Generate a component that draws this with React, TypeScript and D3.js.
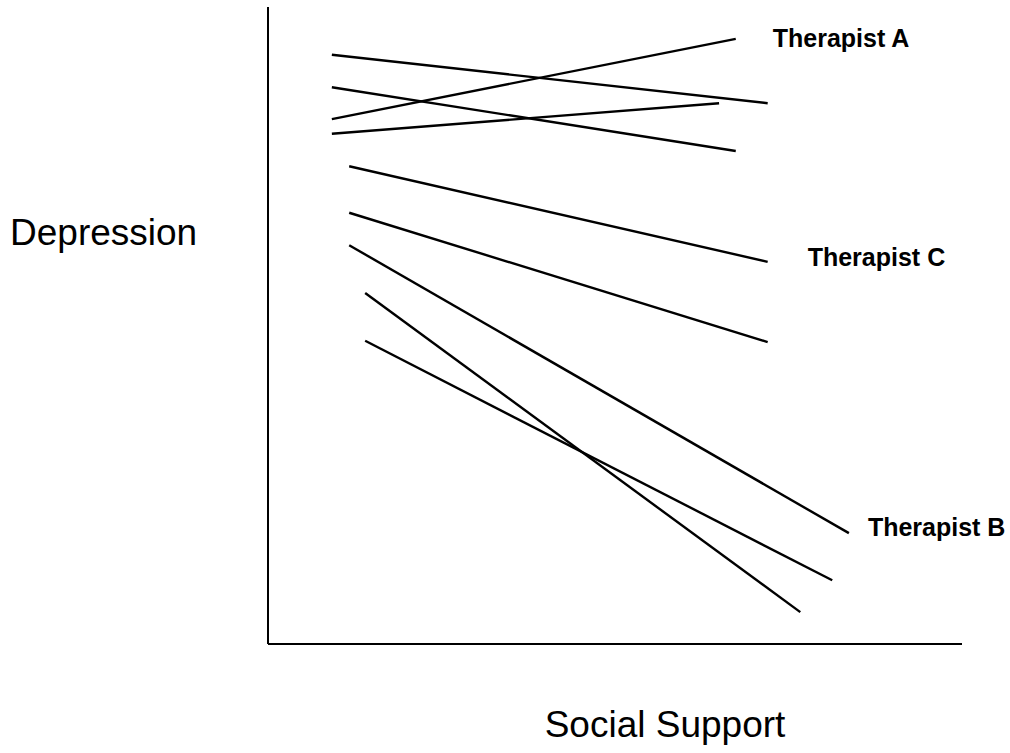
import React, { useEffect, useRef } from "react";
import * as d3 from "d3";

// each line: x1, y1, x2, y2 in data units (0-100 on both axes)
const startX = [9.2, 9.2, 9.2, 9.2, 11.7, 11.7, 11.7, 14.0, 14.0];
const startY = [92.5, 87.4, 82.4, 80.1, 75.0, 67.7, 62.6, 55.1, 47.6];
const endX = [72.0, 67.4, 67.4, 65.0, 72.0, 72.0, 83.7, 76.7, 81.3];
const endY = [84.9, 77.4, 95.0, 84.9, 60.0, 47.4, 17.4, 5.0, 10.0];

// labels sit next to the end of some lines
const labelNames = ["Therapist A", "Therapist C", "Therapist B"];
const labelLine = [2, 4, 6];
const labelDx = [37, 40, 19];
const labelDy = [8, 4, 3];

const width = 1010;
const height = 753;

export default function App() {
  const svgRef = useRef<SVGSVGElement | null>(null);

  useEffect(() => {
    const svg = d3.select(svgRef.current);
    svg.selectAll("*").remove();

    const x = d3.scaleLinear().domain([0, 100]).range([268, 962]);
    const y = d3.scaleLinear().domain([0, 100]).range([644, 7]);

    const lines = startX.map((sx, i) => ({
      x1: sx,
      y1: startY[i],
      x2: endX[i],
      y2: endY[i]
    }));

    // axes
    svg.append("line")
      .attr("x1", x(0)).attr("y1", y(0))
      .attr("x2", x(0)).attr("y2", y(100))
      .attr("stroke", "#000").attr("stroke-width", 2);
    svg.append("line")
      .attr("x1", x(0)).attr("y1", y(0))
      .attr("x2", x(100)).attr("y2", y(0))
      .attr("stroke", "#000").attr("stroke-width", 2);

    svg.selectAll("line.series")
      .data(lines)
      .enter()
      .append("line")
      .attr("class", "series")
      .attr("x1", (d) => x(d.x1))
      .attr("y1", (d) => y(d.y1))
      .attr("x2", (d) => x(d.x2))
      .attr("y2", (d) => y(d.y2))
      .attr("stroke", "#000")
      .attr("stroke-width", 2.4);

    svg.selectAll("text.label")
      .data(labelNames)
      .enter()
      .append("text")
      .attr("class", "label")
      .attr("x", (d, i) => x(lines[labelLine[i]].x2) + labelDx[i])
      .attr("y", (d, i) => y(lines[labelLine[i]].y2) + labelDy[i])
      .style("font-family", "Liberation Sans, Arial, sans-serif")
      .style("font-size", "25px")
      .style("font-weight", "bold")
      .text((d) => d);

    svg.append("text")
      .attr("x", 10)
      .attr("y", 245)
      .style("font-family", "Liberation Sans, Arial, sans-serif")
      .style("font-size", "37px")
      .text("Depression");

    svg.append("text")
      .attr("x", 665)
      .attr("y", 737)
      .attr("text-anchor", "middle")
      .style("font-family", "Liberation Sans, Arial, sans-serif")
      .style("font-size", "37px")
      .text("Social Support");
  }, []);

  return (
    <svg
      ref={svgRef}
      width={width}
      height={height}
      style={{ position: "absolute", left: 0, top: 0, background: "#fff" }}
    ></svg>
  );
}
